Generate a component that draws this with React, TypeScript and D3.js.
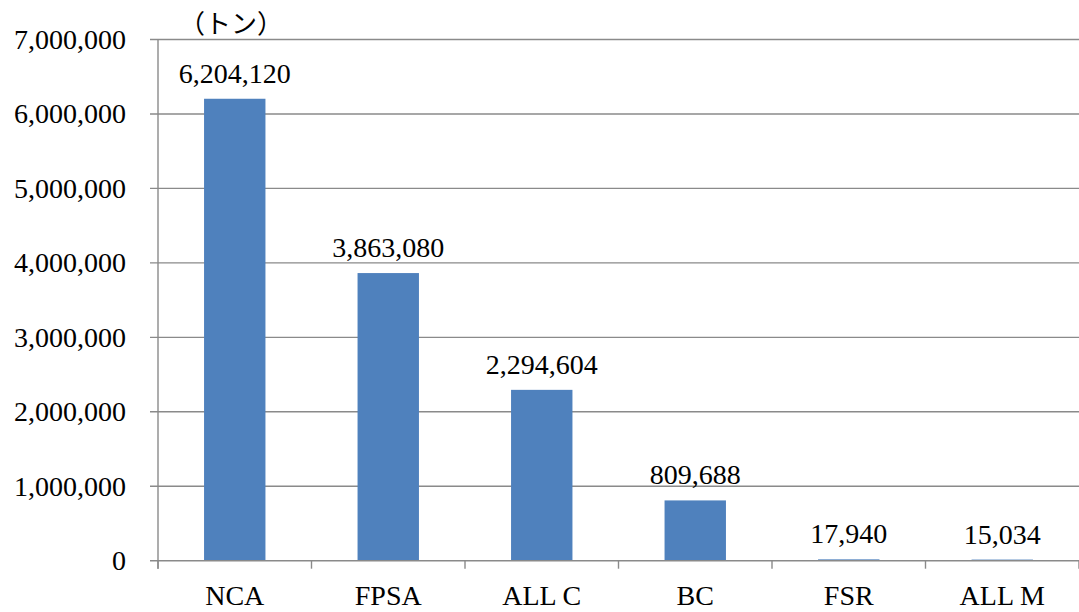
import React from "react";
import * as d3 from "d3";

const categories = ["NCA", "FPSA", "ALL C", "BC", "FSR", "ALL M"];
const values = [6204120, 3863080, 2294604, 809688, 17940, 15034];
const yTicks = [0, 1000000, 2000000, 3000000, 4000000, 5000000, 6000000, 7000000];
const unitLabel = "（トン）";

const W = 1079;
const H = 612;
const left = 158;
const right = 1079;
const top = 39.5;
const bottom = 560.7;

const serif = "'Liberation Serif', 'Times New Roman', serif";
const gridColor = "#8a8a8a";
const barColor = "#4f81bd";
const fontSize = 28;

export default function App() {
  const x = d3.scaleBand<string>().domain(categories).range([left, right]).padding(0);
  const y = d3.scaleLinear().domain([0, 7000000]).range([bottom, top]);
  const fmt = d3.format(",");
  const step = x.step();
  const barW = step * 0.4;

  return (
    <svg
      width={W}
      height={H}
      style={{ position: "absolute", left: 0, top: 0, background: "#fff" }}
    >
      {/* horizontal gridlines with their left tick stubs */}
      {yTicks.filter((t) => t !== 0).map((t) => (
        <line
          key={"g" + t}
          x1={150}
          x2={right}
          y1={y(t)}
          y2={y(t)}
          stroke={gridColor}
          strokeWidth={1.4}
        />
      ))}
      {/* bars */}
      {categories.map((c, i) => {
        const cx = (x(c) as number) + step / 2;
        return (
          <rect
            key={"b" + c}
            x={cx - barW / 2}
            y={y(values[i])}
            width={barW}
            height={bottom - y(values[i])}
            fill={barColor}
          />
        );
      })}
      {/* category axis line, drawn over the bar bases */}
      <line x1={150} x2={right} y1={y(0)} y2={y(0)} stroke={gridColor} strokeWidth={1.6} />
      {/* value axis line */}
      <line x1={left} x2={left} y1={top} y2={bottom + 8} stroke={gridColor} strokeWidth={1.4} />
      {/* category boundary ticks */}
      {d3.range(categories.length + 1).map((i) => {
        const xx = left + i * step;
        return (
          <line
            key={"xt" + i}
            x1={xx}
            x2={xx}
            y1={bottom}
            y2={bottom + 8}
            stroke={gridColor}
            strokeWidth={1.4}
          />
        );
      })}
      {/* value labels */}
      {categories.map((c, i) => {
        const cx = (x(c) as number) + step / 2;
        return (
          <text
            key={"v" + c}
            x={cx}
            y={y(values[i]) - 16}
            textAnchor="middle"
            fontFamily={serif}
            fontSize={fontSize}
            fill="#000"
          >
            {fmt(values[i])}
          </text>
        );
      })}
      {/* y tick labels */}
      {yTicks.map((t) => (
        <text
          key={"yl" + t}
          x={126}
          y={y(t) + 9.5}
          textAnchor="end"
          fontFamily={serif}
          fontSize={fontSize}
          fill="#000"
        >
          {fmt(t)}
        </text>
      ))}
      {/* category labels */}
      {categories.map((c) => (
        <text
          key={"c" + c}
          x={(x(c) as number) + step / 2}
          y={605}
          textAnchor="middle"
          fontFamily={serif}
          fontSize={fontSize}
          fill="#000"
        >
          {c}
        </text>
      ))}
      {/* unit label */}
      <text
        x={231}
        y={33}
        textAnchor="middle"
        fontFamily="'Noto Sans CJK JP', sans-serif"
        fontSize={26}
        fill="#000"
      >
        {unitLabel}
      </text>
    </svg>
  );
}
